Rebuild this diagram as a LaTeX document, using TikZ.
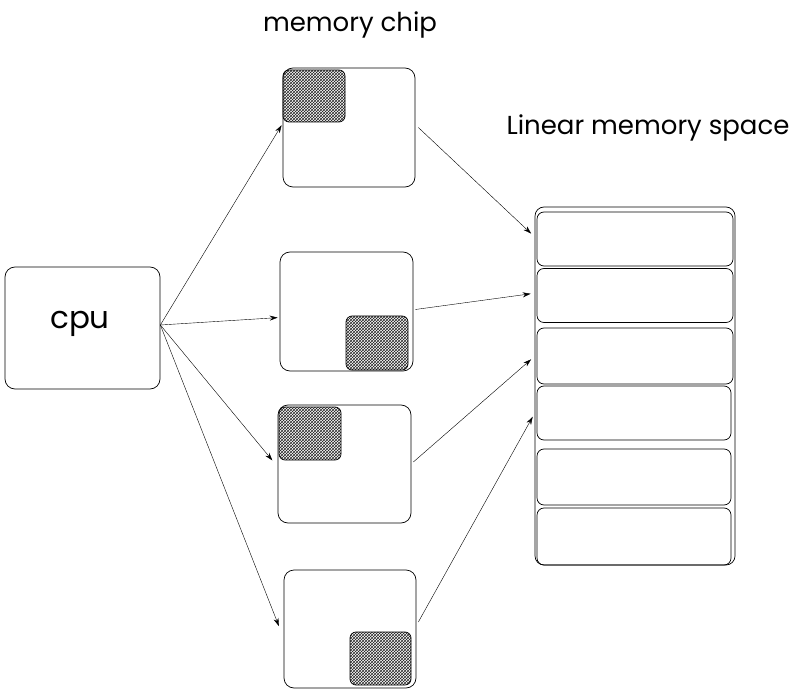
\documentclass[tikz,border=0pt]{standalone}
\usepackage{fontspec}
\setmainfont{Poppins}
\usetikzlibrary{patterns,calc,arrows.meta}
\begin{document}
\begin{tikzpicture}[x=1pt,y=-1pt,
  box/.style={draw,line width=0.7pt,rounded corners=10pt,inner sep=0pt},
  hatch/.style={draw,line width=0.7pt,rounded corners=6pt,fill=gray!55,pattern=crosshatch,pattern color=gray!30!black},
  row/.style={draw,line width=0.7pt,rounded corners=7pt,minimum width=196pt,minimum height=54pt,inner sep=0pt},
  arr/.style={-{Stealth[length=8pt,width=5pt]},line width=0.4pt,shorten >=2pt}]
\useasboundingbox (0,0) rectangle (800,692);
\node[box,minimum width=155pt,minimum height=122pt] (cpu) at (82.5,328) {};
\node[font=\fontsize{31}{36}\selectfont] (cputxt) at (80,324) {cpu};
\node[font=\fontsize{26}{30}\selectfont] (t1) at (350,25) {memory chip};
\node[font=\fontsize{26}{30}\selectfont] (t2) at (648,128) {Linear memory space};
\node[box,minimum width=132pt,minimum height=119pt] (c1) at (349,127.5) {};
\node[box,minimum width=133pt,minimum height=119pt] (c2) at (346.5,311.5) {};
\node[box,minimum width=133pt,minimum height=118pt] (c3) at (344.5,464) {};
\node[box,minimum width=132pt,minimum height=118pt] (c4) at (350,629) {};
\path[hatch] (283,70) rectangle (345,122);
\path[hatch] (346,316) rectangle (408,370);
\path[hatch] (279,407) rectangle (341,460);
\path[hatch] (350,632) rectangle (411,685);
\node[draw,line width=0.7pt,rounded corners=9pt,minimum width=200pt,minimum height=358pt,inner sep=0pt] (stack) at (635,386) {};
\node[row] (r1) at (635,239) {};
\node[row] (r2) at (635,295.5) {};
\node[row,minimum height=56pt] (r3) at (635,356) {};
\node[row,minimum width=194pt] (r4) at (634,413) {};
\node[row,minimum width=194pt,minimum height=56pt] (r5) at (634,477) {};
\node[row,minimum width=194pt,minimum height=57pt] (r6) at (634,536.5) {};
\coordinate (o) at ($(cpu.east)+(0,-3)$);
\draw[arr] (o) -- ($(c1.west)+(0,-4)$);
\draw[arr] (o) -- ($(c2.west)+(0,6)$);
\draw[arr] (o) -- ($(c3.west)+(-4,-2)$);
\draw[arr] (o) -- ($(c4.west)+(-4,-1)$);
\draw[arr] ($(c1.east)+(3,0)$) -- ($(r1.west)+(-4,-4)$);
\draw[arr] ($(c2.east)+(2,-2)$) -- ($(r2.west)+(-4,-2)$);
\draw[arr] ($(c3.east)+(2,-2)$) -- ($(r3.west)+(-4,2)$);
\draw[arr] ($(c4.east)+(2,-7)$) -- ($(r4.west)+(-3,2)$);
\end{tikzpicture}
\end{document}
